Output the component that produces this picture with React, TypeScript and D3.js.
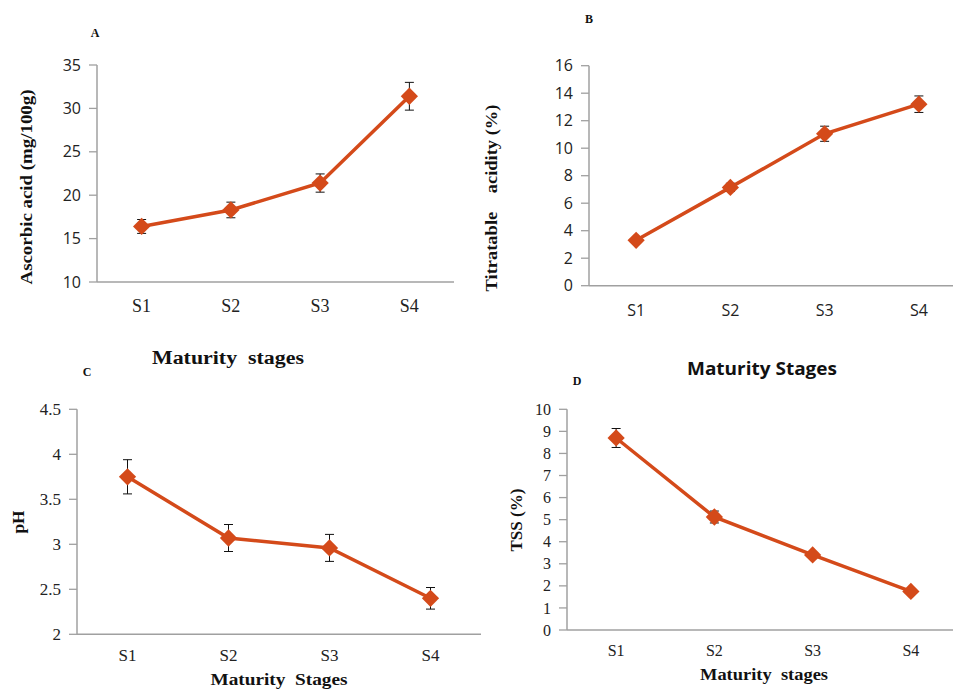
import * as d3 from "d3";

const stages = ["S1", "S2", "S3", "S4"];

const ascorbic = [16.4, 18.3, 21.4, 31.4];
const ascorbicErr = [0.8, 0.9, 1.05, 1.6];
const ascorbicTicks = [10, 15, 20, 25, 30, 35];

const acidity = [3.3, 7.15, 11.05, 13.2];
const acidityErr = [0.15, 0.3, 0.55, 0.6];
const acidityTicks = [0, 2, 4, 6, 8, 10, 12, 14, 16];

const ph = [3.75, 3.07, 2.96, 2.4];
const phErr = [0.19, 0.15, 0.15, 0.12];
const phTicks = [2, 2.5, 3, 3.5, 4, 4.5];

const tss = [8.7, 5.12, 3.4, 1.75];
const tssErr = [0.43, 0.27, 0.12, 0.06];
const tssTicks = [0, 1, 2, 3, 4, 5, 6, 7, 8, 9, 10];

const SERIF = "'Liberation Serif', 'Times New Roman', serif";
const SANS = "'Open Sans', 'Noto Sans', sans-serif";
const LINE = "#d44a1a";
const AXIS = "#a0a0a0";

type PanelProps = {
  values: number[];
  errs: number[];
  ticks: number[];
  left: number;
  right: number;
  top: number;
  bottom: number;
  yFont: string;
  yFontSize: number;
  xFont: string;
  xFontSize: number;
  xLabelY: number;
};

function Panel(p: PanelProps) {
  const x = d3.scaleBand<string>().domain(stages).range([p.left, p.right]).padding(0);
  const y = d3
    .scaleLinear()
    .domain([p.ticks[0], p.ticks[p.ticks.length - 1]])
    .range([p.bottom, p.top]);
  const cx = (s: string) => (x(s) ?? 0) + x.bandwidth() / 2;
  const pts = stages.map((s, i) => ({ s, v: p.values[i], e: p.errs[i] }));
  const line = d3
    .line<(typeof pts)[number]>()
    .x((d) => cx(d.s))
    .y((d) => y(d.v));
  const diamond = d3.symbol(d3.symbolDiamond2, 190)() ?? "";

  return (
    <g>
      {/* y axis ticks + labels */}
      {p.ticks.map((t) => (
        <g key={t}>
          <line x1={p.left - 8} x2={p.left} y1={y(t)} y2={y(t)} stroke={AXIS} strokeWidth={1.3} />
          <text
            x={p.left - 16}
            y={y(t)}
            dy="0.35em"
            textAnchor="end"
            fontFamily={p.yFont}
            fontSize={p.yFontSize}
            fill="#222"
          >
            {String(t)}
          </text>
        </g>
      ))}
      <line x1={p.left} x2={p.left} y1={p.top} y2={p.bottom} stroke={AXIS} strokeWidth={1.5} />
      <line x1={p.left} x2={p.right} y1={p.bottom} y2={p.bottom} stroke={AXIS} strokeWidth={1.5} />

      {/* category labels */}
      {stages.map((s) => (
        <text
          key={s}
          x={cx(s)}
          y={p.xLabelY}
          textAnchor="middle"
          fontFamily={p.xFont}
          fontSize={p.xFontSize}
          fill="#222"
        >
          {s}
        </text>
      ))}

      <path d={line(pts) ?? ""} fill="none" stroke={LINE} strokeWidth={3.5} />

      {/* error bars */}
      {pts.map((d) => (
        <g key={`e-${d.s}`} stroke="#111" strokeWidth={1}>
          <line x1={cx(d.s)} x2={cx(d.s)} y1={y(d.v + d.e)} y2={y(d.v - d.e)} />
          <line x1={cx(d.s) - 4.5} x2={cx(d.s) + 4.5} y1={y(d.v + d.e)} y2={y(d.v + d.e)} />
          <line x1={cx(d.s) - 4.5} x2={cx(d.s) + 4.5} y1={y(d.v - d.e)} y2={y(d.v - d.e)} />
        </g>
      ))}

      {pts.map((d) => (
        <path
          key={`m-${d.s}`}
          d={diamond}
          transform={`translate(${cx(d.s)},${y(d.v)})`}
          fill={LINE}
        />
      ))}
    </g>
  );
}

function Title({ x, y, text, font = SERIF, size = 16, rotate = false, len }: {
  x: number; y: number; text: string; font?: string; size?: number; rotate?: boolean; len?: number;
}) {
  return (
    <text
      x={x}
      y={y}
      transform={rotate ? `rotate(-90 ${x} ${y})` : undefined}
      textAnchor="middle"
      fontFamily={font}
      fontWeight="bold"
      fontSize={size}
      fill="#111"
      textLength={len}
      lengthAdjust={len ? "spacingAndGlyphs" : undefined}
      style={{ whiteSpace: "pre" }}
    >
      {text}
    </text>
  );
}

export default function App() {
  return (
    <div style={{ position: "absolute", left: 0, top: 0 }}>
      <svg width={953} height={689} style={{ display: "block", background: "#fff" }}>
        {/* A */}
        <Title x={95} y={37} text="A" size={12} />
        <Panel
          values={ascorbic} errs={ascorbicErr} ticks={ascorbicTicks}
          left={97} right={454} top={65} bottom={282}
          yFont={SANS} yFontSize={16} xFont={SERIF} xFontSize={18} xLabelY={312}
        />
        <Title x={32} y={187} text="Ascorbic acid (mg/100g)" size={17} len={195} rotate />
        <Title x={228} y={364} text="Maturity  stages" size={18} len={152} />

        {/* B */}
        <Title x={589} y={23} text="B" size={12} />
        <Panel
          values={acidity} errs={acidityErr} ticks={acidityTicks}
          left={589} right={966} top={65.7} bottom={285.7}
          yFont={SANS} yFontSize={16} xFont={SANS} xFontSize={16} xLabelY={316}
        />
        <Title x={497} y={198} text="Titratable    acidity (%)" size={17} len={187} rotate />
        <Title x={762} y={375} text="Maturity Stages" font={SANS} size={17} len={150} />

        {/* C */}
        <Title x={87} y={376} text="C" size={12} />
        <Panel
          values={ph} errs={phErr} ticks={phTicks}
          left={77} right={481} top={409.3} bottom={634.3}
          yFont={SERIF} yFontSize={17} xFont={SERIF} xFontSize={17} xLabelY={661}
        />
        <Title x={24} y={522} text="pH" size={17} len={23} rotate />
        <Title x={279} y={685} text="Maturity  Stages" size={17} len={137} />

        {/* D */}
        <Title x={577} y={385} text="D" size={12} />
        <Panel
          values={tss} errs={tssErr} ticks={tssTicks}
          left={567} right={960} top={409.3} bottom={630}
          yFont={SERIF} yFontSize={16} xFont={SERIF} xFontSize={16} xLabelY={656}
        />
        <Title x={522} y={520} text="TSS (%)" size={16} len={63} rotate />
        <Title x={764} y={680} text="Maturity  stages" size={16} len={128} />
      </svg>
    </div>
  );
}
